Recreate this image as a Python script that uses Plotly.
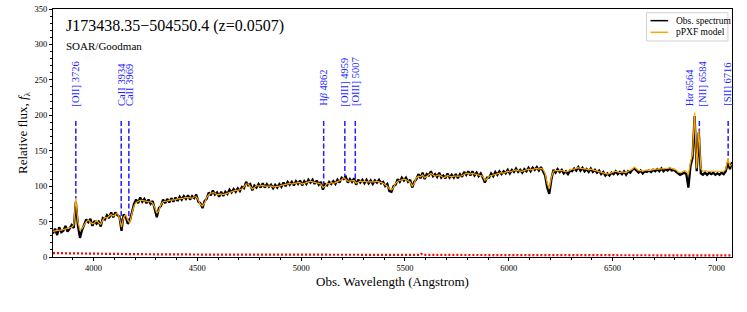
import numpy as np
import plotly.graph_objects as go

# ---------------- data ----------------
WAVE_START = 3805
WAVE_END = 7075
REDSHIFT = 0.0507

# observed spectrum, 10 A sampling, one row per 100 A
obs_flux = [
    33, 40, 31, 42, 35, 37, 44, 36, 40, 45,            # 3805
    41, 78, 44, 27, 38, 47, 53, 49, 54, 44,            # 3905
    51, 47, 50, 43, 55, 53, 59, 55, 63, 56,            # 4005
    63, 59, 57, 37, 60, 57, 47, 51, 64, 75,            # 4105
    81, 76, 84, 78, 82, 76, 81, 75, 79, 68,            # 4205
    56, 69, 72, 81, 76, 82, 77, 83, 78, 84,            # 4305
    79, 85, 81, 86, 82, 87, 81, 86, 83, 88,            # 4405
    78, 76, 69, 79, 82, 91, 87, 94, 88, 91,            # 4505
    85, 92, 86, 92, 89, 95, 91, 96, 92, 97,            # 4605
    93, 99, 97, 106, 101, 103, 94, 101, 98, 103,       # 4705
    98, 104, 98, 103, 99, 102, 97, 102, 98, 103,       # 4805
    99, 105, 100, 106, 102, 106, 101, 107, 103, 108,   # 4905
    101, 107, 103, 109, 105, 109, 103, 108, 102, 106,  # 5005
    95, 103, 101, 106, 103, 107, 103, 109, 105, 112,   # 5105
    110, 113, 105, 110, 106, 111, 102, 109, 105, 109,  # 5205
    104, 109, 104, 108, 103, 108, 105, 109, 104, 106,  # 5305
    100, 103, 93, 92, 100, 102, 110, 106, 112, 108,    # 5405
    112, 106, 109, 98, 106, 110, 117, 111, 119, 110,   # 5505
    117, 115, 121, 114, 117, 113, 119, 112, 115, 111,  # 5605
    118, 112, 116, 112, 117, 111, 117, 113, 120, 116,  # 5705
    121, 115, 121, 115, 119, 114, 118, 112, 105, 112,  # 5805
    112, 118, 114, 120, 116, 121, 117, 121, 118, 123,  # 5905
    118, 123, 120, 125, 120, 123, 119, 124, 121, 126,  # 6005
    121, 126, 123, 127, 122, 127, 122, 115, 98, 89,    # 6105
    109, 123, 119, 124, 120, 123, 118, 121, 117, 122,  # 6205
    121, 125, 122, 127, 122, 126, 121, 124, 120, 125,  # 6305
    120, 123, 119, 122, 117, 120, 115, 118, 115, 119,  # 6405
    117, 121, 117, 120, 117, 121, 116, 121, 119, 123,  # 6505
    125, 122, 119, 122, 118, 121, 120, 122, 120, 123,  # 6605
    121, 124, 121, 125, 121, 124, 122, 125, 122, 123,  # 6705
    120, 118, 116, 118, 119, 117, 98, 128, 140, 199,   # 6805
    121, 176, 118, 116, 119, 116, 119, 117, 119, 116,  # 6905
    118, 116, 119, 117, 121, 133, 124, 134,            # 7005
]

# pPXF best-fit model, same sampling
model_flux = [
    36, 37, 37, 38, 38, 39, 40, 40, 41, 42,            # 3805
    45, 83, 50, 38, 40, 45, 50, 52, 50, 47,            # 3905
    48, 52, 48, 46, 52, 56, 55, 58, 60, 58,            # 4005
    60, 62, 55, 42, 56, 60, 52, 48, 62, 72,            # 4105
    77, 79, 80, 80, 79, 79, 78, 78, 76, 70,            # 4205
    62, 66, 74, 78, 78, 79, 80, 80, 80, 81,            # 4305
    82, 82, 83, 83, 84, 84, 84, 83, 85, 85,            # 4405
    80, 74, 72, 76, 84, 88, 90, 91, 90, 88,            # 4505
    88, 89, 88, 89, 91, 92, 93, 93, 94, 94,            # 4605
    95, 96, 99, 103, 103, 100, 96, 98, 101, 100,       # 4705
    101, 101, 100, 100, 101, 100, 99, 99, 100, 100,    # 4805
    101, 102, 102, 103, 104, 103, 104, 104, 105, 105,  # 4905
    103, 104, 105, 106, 107, 106, 105, 105, 104, 103,  # 5005
    98, 100, 104, 103, 105, 104, 105, 106, 107, 109,   # 5105
    112, 110, 107, 107, 108, 108, 104, 106, 107, 106,  # 5205
    107, 106, 106, 106, 105, 106, 107, 106, 106, 104,  # 5305
    102, 100, 96, 95, 98, 104, 107, 108, 109, 110,     # 5405
    109, 108, 106, 100, 104, 112, 114, 113, 116, 112,  # 5505
    114, 117, 118, 116, 114, 115, 116, 114, 112, 113,  # 5605
    115, 114, 113, 114, 114, 113, 114, 115, 117, 118,  # 5705
    118, 117, 118, 117, 116, 116, 115, 114, 108, 110,  # 5805
    114, 115, 116, 117, 118, 119, 119, 118, 120, 121,  # 5905
    120, 121, 122, 123, 122, 121, 121, 122, 123, 124,  # 6005
    123, 124, 125, 125, 124, 125, 124, 118, 104, 96,   # 6105
    112, 121, 122, 122, 123, 122, 121, 120, 121, 123,  # 6205
    124, 124, 125, 126, 125, 125, 124, 124, 123, 124,  # 6305
    123, 122, 122, 121, 120, 119, 118, 117, 118, 119,  # 6405
    120, 121, 120, 119, 120, 120, 119, 121, 122, 124,  # 6505
    127, 124, 122, 122, 121, 122, 123, 122, 123, 123,  # 6605
    124, 124, 124, 125, 124, 125, 125, 126, 125, 124,  # 6705
    123, 120, 119, 120, 122, 121, 116, 134, 145, 204,  # 6805
    125, 180, 125, 121, 122, 121, 121, 121, 121, 120,  # 6905
    120, 120, 121, 121, 124, 139, 128, 131,            # 7005
]

# flux error (red dotted)
err_wave = [3805, 3900, 4000, 4200, 4500, 5000, 5500, 5570, 5578, 5586, 6000, 6290, 6300, 6310, 6500, 7075]
err_flux = [5.5, 5.0, 4.5, 4.0, 3.5, 3.2, 3.0, 3.0, 4.5, 3.0, 2.7, 2.6, 3.2, 2.6, 2.5, 2.3]

line_names = ["[OII] 3726", "CaII 3934", "CaII 3969", "H<i>β</i> 4862", "[OIII] 4959",
              "[OIII] 5007", "H<i>α</i> 6564", "[NII] 6584", "[SII] 6716"]
line_rest = [3726, 3934, 3969, 4862, 4959, 5007, 6564, 6584, 6716]

legend_names = ["Obs. spectrum", "pPXF model"]

title_text = "J173438.35\u2212504550.4 (z=0.0507)"
subtitle_text = "SOAR/Goodman"

# ---------------- style / layout ----------------
FONT = "Liberation Serif, Times New Roman, serif"
LINE_TOP = 192
LABEL_BASE = 210
LABEL_SHIFT = {"H<i>α</i> 6564": -26, "[NII] 6584": 14}   # label nudges (Angstrom)
BLUE = "#1f1fff"
OBS_COLOR = "black"
MOD_COLOR = "#FFA500"

wave_obs = np.linspace(WAVE_START, WAVE_END, len(obs_flux))
wave_mod = np.linspace(WAVE_START, WAVE_END, len(model_flux))

fig = go.Figure()

line_obs = [w * (1 + REDSHIFT) for w in line_rest]
for w in line_obs:
    yb = float(np.interp(w, wave_mod, model_flux))
    fig.add_trace(go.Scatter(x=[w, w], y=[LINE_TOP, yb], mode="lines",
                             line=dict(color=BLUE, width=1.5, dash="5px,2.5px"),
                             showlegend=False, hoverinfo="skip"))

fig.add_trace(go.Scatter(x=wave_obs, y=obs_flux, mode="lines", name=legend_names[0],
                         line=dict(color=OBS_COLOR, width=2.3), showlegend=False))
fig.add_trace(go.Scatter(x=wave_mod, y=model_flux, mode="lines", name=legend_names[1],
                         line=dict(color=MOD_COLOR, width=1.2), showlegend=False))
fig.add_trace(go.Scatter(x=err_wave, y=err_flux, mode="lines", showlegend=False,
                         line=dict(color="red", width=2.2, dash="2px,2px")))

annotations = []
for w, name in zip(line_obs, line_names):
    annotations.append(dict(x=w + LABEL_SHIFT.get(name, 0), y=LABEL_BASE, xref="x", yref="y",
                            text=name, textangle=-90, xanchor="center", yanchor="bottom",
                            showarrow=False, font=dict(family=FONT, size=10.5, color=BLUE)))
annotations.append(dict(x=0.016, y=0.93, xref="paper", yref="paper", text=title_text,
                        xanchor="left", yanchor="middle", showarrow=False,
                        font=dict(family=FONT, size=16, color="black")))
annotations.append(dict(x=0.016, y=0.852, xref="paper", yref="paper", text=subtitle_text,
                        xanchor="left", yanchor="middle", showarrow=False,
                        font=dict(family=FONT, size=11, color="black")))

# hand-drawn legend box (matplotlib style)
shapes = [dict(type="rect", xref="paper", yref="paper", x0=0.874, x1=0.994, y0=0.871, y1=0.985,
               line=dict(color="#d0d0d0", width=1), fillcolor="white", layer="above")]
leg_y = [0.953, 0.906]
for name, col, yy in zip(legend_names, [OBS_COLOR, MOD_COLOR], leg_y):
    shapes.append(dict(type="line", xref="paper", yref="paper", x0=0.880, x1=0.906, y0=yy, y1=yy,
                       line=dict(color=col, width=1.5), layer="above"))
    annotations.append(dict(x=0.9146, y=yy, xref="paper", yref="paper", text=name,
                            xanchor="left", yanchor="middle", showarrow=False,
                            font=dict(family=FONT, size=9.5, color="black")))

fig.update_layout(
    width=747, height=312,
    margin=dict(l=53, r=15, t=9, b=55),
    paper_bgcolor="white", plot_bgcolor="white",
    font=dict(family=FONT, color="black"),
    annotations=annotations, shapes=shapes,
    showlegend=False, hovermode=False,
)
fig.update_xaxes(range=[WAVE_START, WAVE_END], showgrid=False, zeroline=False, automargin=False,
                 showline=True, linecolor="black", linewidth=1, mirror=True,
                 ticks="outside", ticklen=3, tickcolor="black", dtick=500, tick0=4000,
                 tickfont=dict(family=FONT, size=8.5),
                 minor=dict(dtick=100, ticks="outside", ticklen=2, tickcolor="black"),
                 title=dict(text="Obs. Wavelength (Angstrom)", font=dict(family=FONT, size=13),
                            standoff=4))
fig.update_yaxes(range=[0, 350], showgrid=False, zeroline=False, automargin=False,
                 showline=True, linecolor="black", linewidth=1, mirror=True,
                 ticks="outside", ticklen=3, tickcolor="black", dtick=50,
                 tickfont=dict(family=FONT, size=8.5),
                 minor=dict(dtick=10, ticks="outside", ticklen=2, tickcolor="black"),
                 title=dict(text="Relative flux, <i>f</i><sub>λ</sub>", font=dict(family=FONT, size=13),
                            standoff=3))

# remove the browser's default 8px page margin so the figure sits at the window origin
fig.write_html("out.html", config={"displayModeBar": False},
               post_script="document.body.style.margin='0px';")
